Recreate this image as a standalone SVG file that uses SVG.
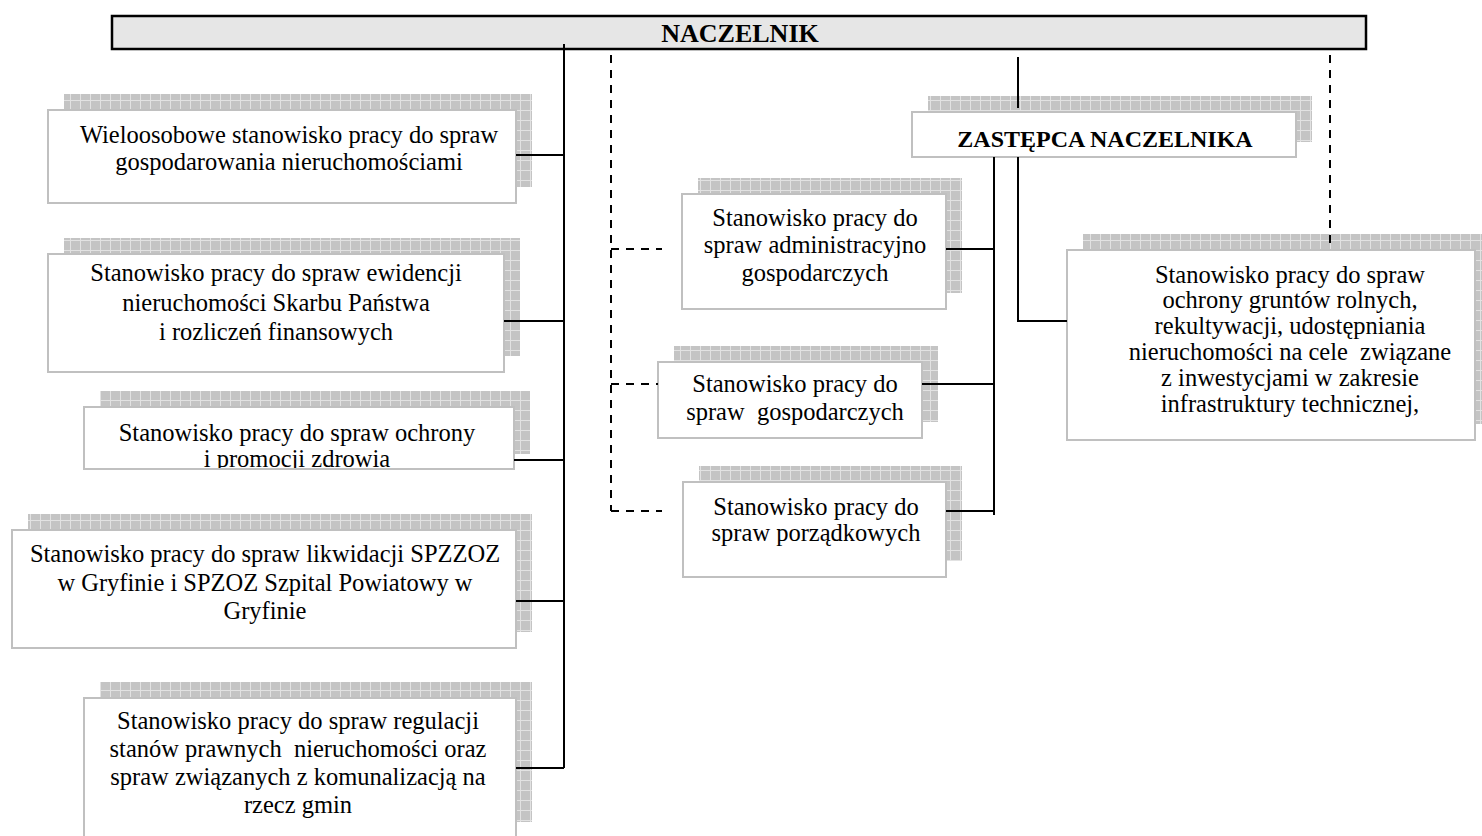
<svg xmlns="http://www.w3.org/2000/svg" width="1482" height="836" viewBox="0 0 1482 836">
<defs>
<pattern id="grid" width="10" height="10" patternUnits="userSpaceOnUse">
<rect width="10" height="10" fill="#c4c4c4"/>
<path d="M0 0.5H10M0.5 0V10" stroke="#e2e2e2" stroke-width="1"/>
</pattern>
<clipPath id="clip3"><rect x="85" y="408" width="428" height="60"/></clipPath>
</defs>
<style>
.sh{fill:url(#grid)}
.bx{fill:#fff;stroke:#c0c0c0;stroke-width:2}
.t{font-family:"Liberation Serif","Times New Roman",serif;font-size:24.5px;fill:#000;text-anchor:middle;white-space:pre}
.b{font-family:"Liberation Serif","Times New Roman",serif;font-weight:bold;fill:#000;text-anchor:middle}
.c{stroke:#000;stroke-width:2;fill:none}
.d{stroke:#000;stroke-width:2;fill:none;stroke-dasharray:8 7}
</style>
<rect width="1482" height="836" fill="#fff"/>

<g id="naczelnik">
<rect x="112" y="16" width="1254" height="33" fill="#e6e6e6" stroke="#000" stroke-width="2.5"/>
<text class="b" x="740" y="42" font-size="26">NACZELNIK</text>
</g>

<g id="zastepca">
<rect class="sh" x="928" y="96" width="384" height="46"/>
<rect class="bx" x="912" y="112" width="384" height="45"/>
<text class="b" x="1105" y="147" font-size="24">ZASTĘPCA NACZELNIKA</text>
</g>

<g id="box1">
<rect class="sh" x="64" y="94" width="468" height="93"/>
<rect class="bx" x="48" y="110" width="468" height="93"/>
<text class="t" x="289" y="143">Wieloosobowe stanowisko pracy do spraw</text>
<text class="t" x="289" y="170">gospodarowania nieruchomościami</text>
</g>

<g id="box2">
<rect class="sh" x="64" y="238" width="456" height="118"/>
<rect class="bx" x="48" y="254" width="456" height="118"/>
<text class="t" x="276" y="281">Stanowisko pracy do spraw ewidencji</text>
<text class="t" x="276" y="311">nieruchomości Skarbu Państwa</text>
<text class="t" x="276" y="340">i rozliczeń finansowych</text>
</g>

<g id="box3">
<rect class="sh" x="100" y="391" width="430" height="63"/>
<rect class="bx" x="84" y="407" width="430" height="62"/>
<g clip-path="url(#clip3)">
<text class="t" x="297" y="441">Stanowisko pracy do spraw ochrony</text>
<text class="t" x="297" y="467">i promocji zdrowia</text>
</g>
<rect x="84" y="407" width="430" height="62" fill="none" stroke="#c0c0c0" stroke-width="2"/>
</g>

<g id="box4">
<rect class="sh" x="28" y="514" width="504" height="118"/>
<rect class="bx" x="12" y="530" width="504" height="118"/>
<text class="t" x="265" y="562">Stanowisko pracy do spraw likwidacji SPZZOZ</text>
<text class="t" x="265" y="591">w Gryfinie i SPZOZ Szpital Powiatowy w</text>
<text class="t" x="265" y="619">Gryfinie</text>
</g>

<g id="box5">
<rect class="sh" x="100" y="682" width="432" height="140"/>
<rect class="bx" x="84" y="698" width="432" height="150"/>
<text class="t" x="298" y="729">Stanowisko pracy do spraw regulacji</text>
<text class="t" x="298" y="757" xml:space="preserve">stanów prawnych  nieruchomości oraz</text>
<text class="t" x="298" y="785">spraw związanych z komunalizacją na</text>
<text class="t" x="298" y="813">rzecz gmin</text>
</g>

<g id="boxA">
<rect class="sh" x="698" y="178" width="264" height="115"/>
<rect class="bx" x="682" y="194" width="264" height="115"/>
<text class="t" x="815" y="226">Stanowisko pracy do</text>
<text class="t" x="815" y="253">spraw administracyjno</text>
<text class="t" x="815" y="281">gospodarczych</text>
</g>

<g id="boxB">
<rect class="sh" x="674" y="346" width="264" height="76"/>
<rect class="bx" x="658" y="362" width="264" height="76"/>
<text class="t" x="795" y="392">Stanowisko pracy do</text>
<text class="t" x="795" y="420" xml:space="preserve">spraw  gospodarczych</text>
</g>

<g id="boxC">
<rect class="sh" x="699" y="466" width="263" height="95"/>
<rect class="bx" x="683" y="482" width="263" height="95"/>
<text class="t" x="816" y="515">Stanowisko pracy do</text>
<text class="t" x="816" y="541">spraw porządkowych</text>
</g>

<g id="boxR">
<rect class="sh" x="1083" y="234" width="410" height="190"/>
<rect class="bx" x="1067" y="250" width="408" height="190"/>
<text class="t" x="1290" y="283" font-size="24">Stanowisko pracy do spraw</text>
<text class="t" x="1290" y="308" font-size="24">ochrony gruntów rolnych,</text>
<text class="t" x="1290" y="334" font-size="24">rekultywacji, udostępniania</text>
<text class="t" x="1290" y="360" font-size="24" xml:space="preserve">nieruchomości na cele  związane</text>
<text class="t" x="1290" y="386" font-size="24">z inwestycjami w zakresie</text>
<text class="t" x="1290" y="412" font-size="24">infrastruktury technicznej,</text>
</g>

<g id="connectors">
<path class="c" d="M564 44V768"/>
<path class="c" d="M516 155H564M504 321H564M514 460H564M516 601H564M516 768H564"/>
<path class="d" d="M611 55V511"/>
<path class="d" d="M611 249H662M611 384H658M611 511H662"/>
<path class="c" d="M1018 57V108"/>
<path class="d" d="M1330 55V245"/>
<path class="c" d="M994 157V515"/>
<path class="c" d="M946 249H994M922 384H994M946 511H994"/>
<path class="c" d="M1018 157V321H1067"/>
</g>
</svg>
